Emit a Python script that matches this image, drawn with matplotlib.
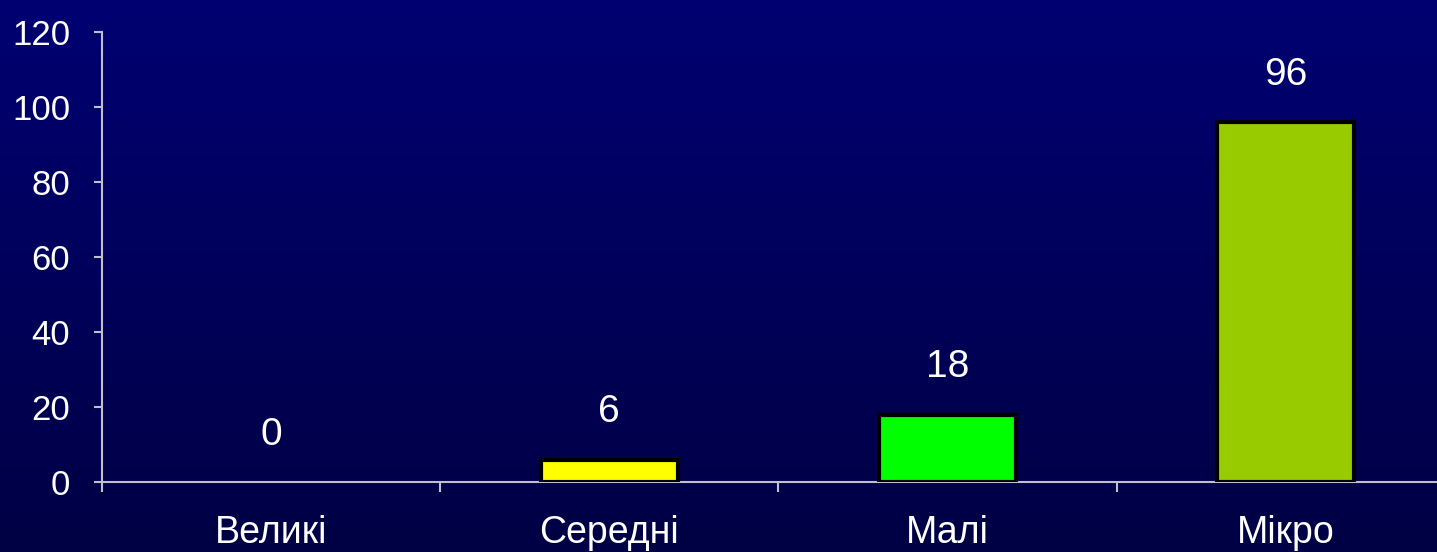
import numpy as np
import matplotlib.pyplot as plt

plt.rcParams['font.family'] = ['Liberation Sans', 'DejaVu Sans']

categories = ['Великі', 'Середні', 'Малі', 'Мікро']
values = [0, 6, 18, 96]
bar_colors = ['#FFFF00', '#FFFF00', '#00FF00', '#99CC00']
yticks = [0, 20, 40, 60, 80, 100, 120]

fig = plt.figure(figsize=(14.37, 5.52), dpi=100)

# background gradient (navy, darker toward the bottom)
bg = fig.add_axes([0, 0, 1, 1], zorder=0)
grad = np.linspace(0, 1, 256).reshape(-1, 1)
top = np.array([0, 0, 0x72]) / 255
bot = np.array([0, 0, 0x44]) / 255
img = top + (bot - top) * grad[:, :, None]
bg.imshow(img, aspect='auto', extent=[0, 1, 0, 1])
bg.axis('off')

ax = fig.add_axes([102 / 1437, 1 - 482 / 552, 1 - 102 / 1437, 450 / 552], zorder=1)
ax.patch.set_alpha(0)

x = np.arange(len(categories))
edges = ['none' if v == 0 else 'black' for v in values]
ax.bar(x, values, width=0.405, color=bar_colors, edgecolor=edges, linewidth=3, zorder=3)

for xi, v in zip(x, values):
    ax.annotate(str(v), (xi, v), xytext=(0, 34), textcoords='offset points',
                ha='center', va='center', color='white', fontsize=28)

ax.set_yticks(yticks)
ax.set_xticks(x)
ax.set_xticklabels(categories)
ax.set_xticks(np.arange(-0.5, 4, 1), minor=True)
ax.set_xlim(-0.5, 3.447)
ax.set_ylim(0, 120)

for s in ['top', 'right']:
    ax.spines[s].set_visible(False)
for s in ['left', 'bottom']:
    ax.spines[s].set_color('#c0c0cc')
    ax.spines[s].set_linewidth(1.5)

ax.tick_params(axis='y', colors='#c0c0cc', labelcolor='white', labelsize=25,
               length=6, width=1.5, pad=17)
ax.tick_params(axis='x', which='major', length=0, labelcolor='white', labelsize=27, pad=24)
ax.tick_params(axis='x', which='minor', colors='#c0c0cc', length=7, width=1.5)

fig.savefig('out.png', dpi=100)
